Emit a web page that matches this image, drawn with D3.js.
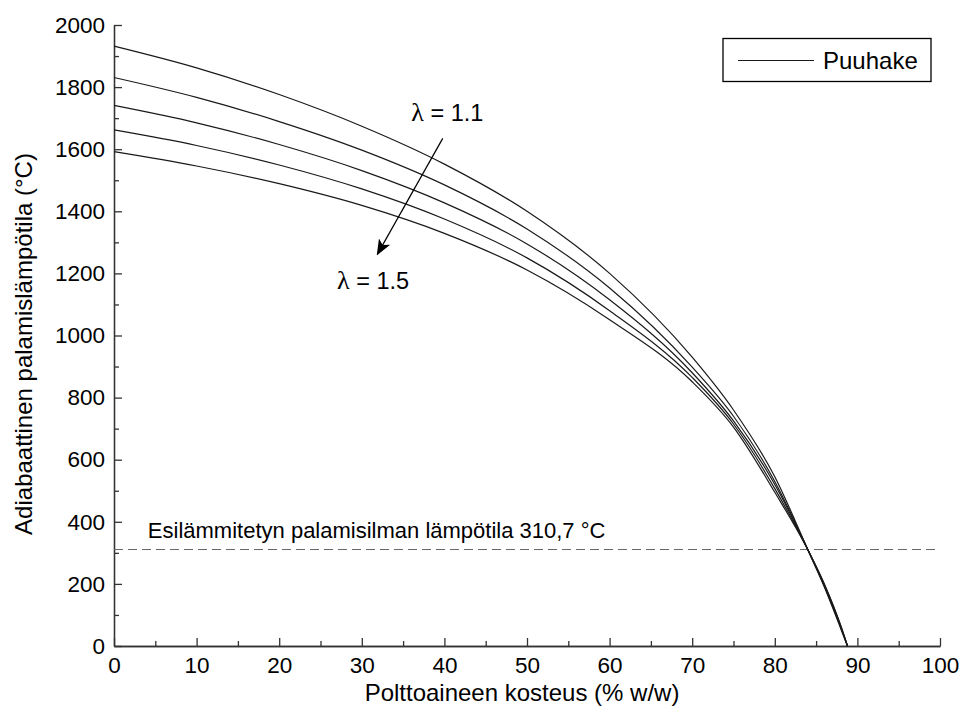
<!DOCTYPE html>
<html lang="fi">
<head>
<meta charset="UTF-8">
<title>Adiabaattinen palamislämpötila</title>
<script src="https://d3js.org/d3.v7.min.js"></script>
<style>
  body { margin: 0; background: #fff; }
  svg { font-family: "Liberation Sans", Arial, sans-serif; }
  .axis text { font-size: 22.5px; fill: #000; }
  .axis path, .axis line { stroke: #333; stroke-width: 1.3; }
  .curve { fill: none; stroke: #1a1a1a; stroke-width: 1.2; }
</style>
</head>
<body>
<svg id="chart"></svg>
<script>
// kosteus (% w/w) näytepisteet
var moisture = [0, 10, 20, 30, 40, 50, 60, 70, 75, 80, 84, 86, 88, 88.8];

// ilmakerroin ja kuvasta luetut lämpötilat (°C)
var lambdas = [1.1, 1.2, 1.3, 1.4, 1.5];
var tLambda11 = [1932, 1862, 1776, 1674, 1552, 1400, 1200, 930, 760, 545, 310, 190, 55, 0];
var tLambda12 = [1831, 1767, 1689, 1597, 1485, 1343, 1153, 898, 740, 530, 310, 193, 58, 0];
var tLambda13 = [1741, 1685, 1615, 1531, 1427, 1295, 1115, 880, 725, 520, 310, 195, 60, 0];
var tLambda14 = [1662, 1612, 1549, 1472, 1375, 1250, 1080, 865, 715, 507, 310, 198, 63, 0];
var tLambda15 = [1592, 1546, 1489, 1419, 1329, 1211, 1051, 851, 705, 495, 310, 200, 65, 0];
var seriesT = [tLambda11, tLambda12, tLambda13, tLambda14, tLambda15];

var preheatT = 310.7;
var xTicks = [0, 10, 20, 30, 40, 50, 60, 70, 80, 90, 100];
var yTicks = [0, 200, 400, 600, 800, 1000, 1200, 1400, 1600, 1800, 2000];

// nuolen alku ja loppu (kosteus, lämpötila)
var arrowFrom = [39.8, 1635];
var arrowTo = [31.9, 1262];

var width = 964, height = 706;
var svg = d3.select("#chart").attr("width", width).attr("height", height);

var x = d3.scaleLinear().domain([0, 100]).range([114, 940]);
var y = d3.scaleLinear().domain([0, 2000]).range([646, 25]);

// pienet väliviivat
svg.append("g")
   .attr("class", "axis")
   .attr("transform", "translate(0,646)")
   .call(d3.axisBottom(x).tickValues(d3.range(5, 100, 10)).tickSize(-5).tickSizeOuter(0).tickFormat(""));
svg.append("g")
   .attr("class", "axis")
   .attr("transform", "translate(114,0)")
   .call(d3.axisLeft(y).tickValues(d3.range(100, 2000, 200)).tickSize(-5).tickSizeOuter(0).tickFormat(""));

// pääakselit
svg.append("g")
   .attr("class", "axis")
   .attr("transform", "translate(0,646)")
   .call(d3.axisBottom(x).tickValues(xTicks).tickSize(-8).tickSizeOuter(0).tickPadding(11).tickFormat(d3.format("d")));
svg.append("g")
   .attr("class", "axis")
   .attr("transform", "translate(114,0)")
   .call(d3.axisLeft(y).tickValues(yTicks).tickSize(-8).tickSizeOuter(0).tickPadding(9).tickFormat(d3.format("d")));

// esilämmitetyn ilman lämpötila
svg.append("line")
   .attr("x1", x(0)).attr("x2", x(100))
   .attr("y1", y(preheatT)).attr("y2", y(preheatT))
   .attr("stroke", "#666").attr("stroke-width", 1)
   .attr("stroke-dasharray", "9,5");
svg.append("text")
   .attr("x", x(4.1)).attr("y", y(preheatT) - 12)
   .attr("font-size", 22)
   .text("Esilämmitetyn palamisilman lämpötila 310,7 °C");

// käyrät
var line = d3.line()
   .x(function(d) { return x(d[0]); })
   .y(function(d) { return y(d[1]); })
   .curve(d3.curveMonotoneX);

svg.selectAll(".curve")
   .data(seriesT)
   .enter().append("path")
   .attr("class", "curve")
   .attr("d", function(t) { return line(moisture.map(function(m, i) { return [m, t[i]]; })); });

// nuoli
svg.append("defs").append("marker")
   .attr("id", "head")
   .attr("viewBox", "0 0 10 10")
   .attr("refX", 9).attr("refY", 5)
   .attr("markerWidth", 16).attr("markerHeight", 16)
   .attr("markerUnits", "userSpaceOnUse")
   .attr("orient", "auto")
   .append("path").attr("d", "M0,1 L10,5 L0,9 L2.5,5 Z").attr("fill", "#000");

svg.append("line")
   .attr("x1", x(arrowFrom[0])).attr("y1", y(arrowFrom[1]))
   .attr("x2", x(arrowTo[0])).attr("y2", y(arrowTo[1]))
   .attr("stroke", "#000").attr("stroke-width", 1.2)
   .attr("marker-end", "url(#head)");

function lambdaLabel(xv, yv, val) {
  var t = svg.append("text").attr("x", x(xv)).attr("y", y(yv)).attr("font-size", 23.5);
  t.append("tspan").attr("font-family", "'Liberation Serif', serif").attr("font-size", 26).text("λ");
  t.append("tspan").text(" = " + val.toFixed(1));
}
lambdaLabel(36.0, 1690, lambdas[0]);
lambdaLabel(27.0, 1150, lambdas[4]);

// legenda
var lg = svg.append("g");
lg.append("rect")
  .attr("x", 723).attr("y", 38.5).attr("width", 208).attr("height", 43)
  .attr("fill", "#fff").attr("stroke", "#000").attr("stroke-width", 1.3);
lg.append("line")
  .attr("x1", 738).attr("x2", 814).attr("y1", 60.5).attr("y2", 60.5)
  .attr("stroke", "#1a1a1a").attr("stroke-width", 1.2);
lg.append("text").attr("x", 823).attr("y", 69).attr("font-size", 24).text("Puuhake");

// akselien otsikot
svg.append("text")
   .attr("x", x(49.4)).attr("y", 701)
   .attr("text-anchor", "middle").attr("font-size", 24)
   .text("Polttoaineen kosteus (% w/w)");
svg.append("text")
   .attr("transform", "translate(32,344) rotate(-90)")
   .attr("text-anchor", "middle").attr("font-size", 24)
   .text("Adiabaattinen palamislämpötila (°C)");
</script>
</body>
</html>
